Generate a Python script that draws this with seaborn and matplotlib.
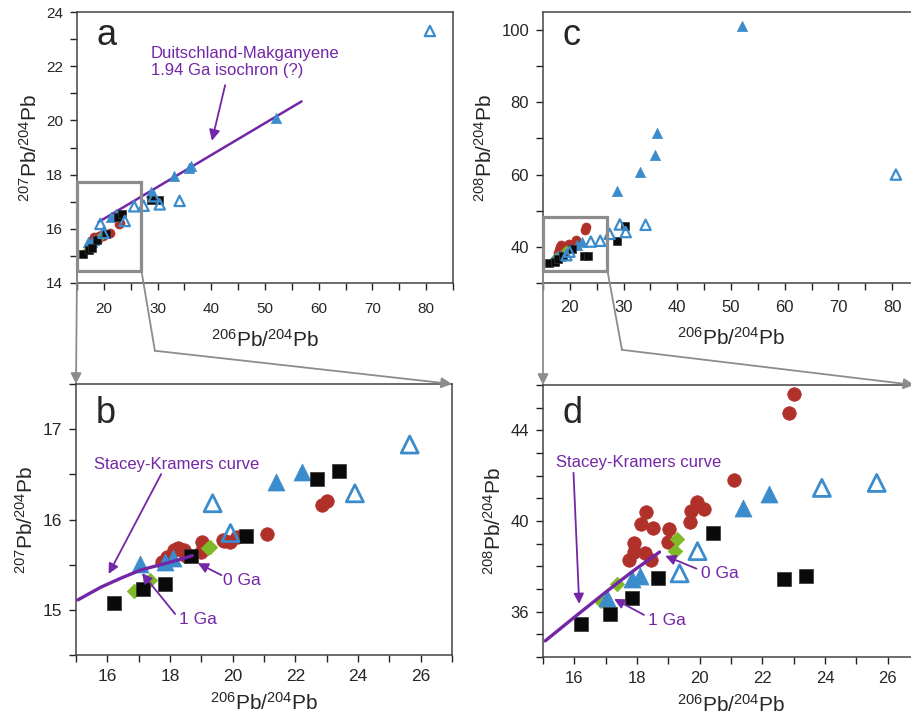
import numpy as np
import pandas as pd
import matplotlib
matplotlib.use("Agg")
import matplotlib.pyplot as plt
from matplotlib.patches import Rectangle, ConnectionPatch
import seaborn as sns

# ---------------------------------------------------------
# data (206Pb/204Pb, 207Pb/204Pb, 208Pb/204Pb)
# ---------------------------------------------------------
sq_206 = [16.21, 17.15, 17.83, 18.66, 20.43, 22.69, 23.39, 28.8, 30.2]
sq_207 = [15.08, 15.23, 15.29, 15.60, 15.82, 16.45, 16.54, 17.05, 17.08]
sq_208 = [35.44, 35.91, 36.60, 37.47, 39.48, 37.45, 37.57, 41.6, 45.7]

red_206 = [17.76, 17.92, 17.92, 18.13, 18.24, 18.29, 18.45, 18.51, 18.99,
           19.02, 19.68, 19.73, 19.91, 20.13, 21.09, 22.84, 23.01]
red_207 = [15.53, 15.57, 15.59, 15.66, 15.68, 15.67, 15.66, 15.60, 15.64,
           15.75, 15.77, 15.76, 15.75, 15.81, 15.84, 16.16, 16.20]
red_208 = [38.26, 38.63, 39.04, 39.85, 38.60, 40.39, 38.26, 39.70, 39.07,
           39.63, 39.95, 40.43, 40.83, 40.51, 41.80, 44.77, 45.62]

dia_206 = [16.85, 17.37, 19.22, 19.28]
dia_207 = [15.21, 15.33, 15.68, 15.70]
dia_208 = [36.47, 37.20, 38.67, 39.19]

tri_206 = [17.05, 17.85, 18.10, 21.38, 22.20, 28.8, 33.0, 35.9, 36.3, 52.0]
tri_207 = [15.51, 15.53, 15.57, 16.42, 16.53, 17.35, 17.95, 18.25, 18.30, 20.1]
tri_208 = [36.62, 37.42, 37.57, 40.58, 41.21, 55.5, 60.8, 65.3, 71.5, 101.2]

otri_206 = [19.36, 19.93, 23.90, 25.65, 27.4, 29.3, 30.4, 34.1, 80.7]
otri_207 = [16.18, 15.85, 16.29, 16.83, 16.85, 17.2, 16.9, 17.03, 23.3]
otri_208 = [37.69, 38.67, 41.46, 41.68, 43.6, 46.2, 44.1, 46.1, 60.0]

# Stacey-Kramers curve as traced on panels b and d
sk_b_206 = [15.06, 15.79, 16.43, 17.06, 17.70, 18.34, 18.71]
sk_b_207 = [15.11, 15.25, 15.35, 15.44, 15.50, 15.56, 15.60]
sk_d_206 = [15.07, 16.05, 17.01, 17.87, 18.72]
sk_d_208 = [34.71, 35.81, 36.87, 37.79, 38.63]

# Duitschland-Makganyene isochron end points (panel a)
iso_206 = [19.0, 56.8]
iso_207 = [16.25, 20.7]

RED = "#b0302a"
GREEN = "#80b928"
BLUE = "#3b8ccc"
BLACK = "#0a0a0a"
PURPLE = "#7326a6"
GRAY = "#8c8c8c"

sns.set_theme(style="ticks")
plt.rcParams["font.family"] = ["Liberation Sans", "DejaVu Sans"]
plt.rcParams["mathtext.default"] = "regular"

def frame(name, x206, x207, x208):
    return pd.DataFrame({"group": name, "x206": x206, "y207": x207, "y208": x208})

df = pd.concat([
    frame("red", red_206, red_207, red_208),
    frame("dia", dia_206, dia_207, dia_208),
    frame("tri", tri_206, tri_207, tri_208),
    frame("sq", sq_206, sq_207, sq_208),
    frame("otri", otri_206, otri_207, otri_208),
], ignore_index=True)

# marker styles
STYLE = {
    "red": dict(marker="o", color=RED, edgecolor=RED, linewidth=0.5),
    "dia": dict(marker="D", color=GREEN, edgecolor=GREEN, linewidth=0.5),
    "tri": dict(marker="^", color=BLUE, edgecolor=BLUE, linewidth=0.5),
    "sq": dict(marker="s", color=BLACK, edgecolor="#333333", linewidth=0.5),
    "otri": dict(marker="^", color=BLUE, facecolor="none", edgecolor=BLUE),
}
SIZE_BIG = {"red": 95, "dia": 55, "tri": 150, "sq": 100, "otri": 150}
SIZE_SMALL = {"red": 42, "dia": 22, "tri": 55, "sq": 40, "otri": 55}

fig = plt.figure(figsize=(9.12, 7.16), dpi=100)
W, H = 912, 716
ax_a = fig.add_axes([77 / W, 1 - 283 / H, 376 / W, 271 / H])
ax_b = fig.add_axes([76 / W, 1 - 655 / H, 376 / W, 271 / H])
ax_c = fig.add_axes([543 / W, 1 - 283 / H, 376 / W, 271 / H])
ax_d = fig.add_axes([543 / W, 1 - 657 / H, 376 / W, 272 / H])

def draw_points(ax, ycol, big):
    sizes = SIZE_BIG if big else SIZE_SMALL
    for g in ["red", "dia", "tri", "sq", "otri"]:
        sub = df[df["group"] == g]
        kw = dict(STYLE[g])
        if g == "otri":
            kw["linewidth"] = 2.0 if big else 1.6
        sns.scatterplot(data=sub, x="x206", y=ycol, s=sizes[g], ax=ax,
                        legend=False, zorder=3, **kw)

def style_axes(ax, xlim, ylim, xticks, xlab, yticks, ylab, ylabel, fs, xpad=5, lpad=6):
    ax.set_xlim(*xlim)
    ax.set_ylim(*ylim)
    ax.set_xticks(xticks)
    ax.set_xticklabels([f"{t:g}" if t in xlab else "" for t in xticks], fontsize=fs)
    ax.set_yticks(yticks)
    ax.set_yticklabels([f"{t:g}" if t in ylab else "" for t in yticks], fontsize=fs)
    ax.tick_params(direction="out", length=5, width=1, color="#222222", pad=5)
    ax.tick_params(axis="x", pad=xpad)
    for sp in ax.spines.values():
        sp.set_visible(True)
        sp.set_color("#444444")
        sp.set_linewidth(1.1)
    ax.set_xlabel(r"$^{206}$Pb/$^{204}$Pb", fontsize=15, labelpad=lpad)
    ax.set_ylabel(ylabel, fontsize=15, labelpad=4)

lab207 = r"$^{207}$Pb/$^{204}$Pb"
lab208 = r"$^{208}$Pb/$^{204}$Pb"

# ---------------- panel a ----------------
draw_points(ax_a, "y207", False)
sns.lineplot(x=iso_206, y=iso_207, ax=ax_a, color=PURPLE, lw=1.8, zorder=2)
style_axes(ax_a, (15, 85), (14, 24), np.arange(15, 86, 5), [20, 30, 40, 50, 60, 70, 80],
           np.arange(14, 25, 1), [14, 16, 18, 20, 22, 24], lab207, 11, xpad=9, lpad=9)
ax_a.text(28.7, 22.75, "Duitschland-Makganyene\n1.94 Ga isochron (?)", color=PURPLE,
          fontsize=12, va="top", ha="left", linespacing=1.15)
ax_a.annotate("", xy=(40.0, 19.15), xytext=(42.7, 21.4),
              arrowprops=dict(arrowstyle="-|>", color=PURPLE, lw=1.3, mutation_scale=16))
ax_a.add_patch(Rectangle((15, 14.45), 12, 3.28, fill=False, ec=GRAY, lw=2.3,
                         zorder=4, clip_on=False))

# ---------------- panel b ----------------
draw_points(ax_b, "y207", True)
sns.lineplot(x=sk_b_206, y=sk_b_207, ax=ax_b, color=PURPLE, lw=2.4, sort=False,
             estimator=None, zorder=4)
style_axes(ax_b, (15, 27), (14.5, 17.5), np.arange(15, 28, 1), [16, 18, 20, 22, 24, 26],
           np.arange(14.5, 17.6, 0.5), [15, 16, 17], lab207, 12.5)
arrow_kw = dict(arrowstyle="-|>", color=PURPLE, lw=1.3, mutation_scale=15)
ax_b.text(15.58, 16.61, "Stacey-Kramers curve", color=PURPLE, fontsize=12, va="center")
ax_b.annotate("", xy=(16.0, 15.37), xytext=(17.76, 16.53), arrowprops=arrow_kw, zorder=5)
ax_b.text(19.68, 15.33, "0 Ga", color=PURPLE, fontsize=12.5, va="center")
ax_b.annotate("", xy=(18.81, 15.53), xytext=(19.72, 15.37), arrowprops=arrow_kw, zorder=5)
ax_b.text(18.28, 14.89, "1 Ga", color=PURPLE, fontsize=12.5, va="center")
ax_b.annotate("", xy=(17.05, 15.43), xytext=(18.22, 14.93), arrowprops=arrow_kw, zorder=5)

# ---------------- panel c ----------------
draw_points(ax_c, "y208", False)
style_axes(ax_c, (15, 85), (30, 105), np.arange(15, 86, 5), [20, 30, 40, 50, 60, 70, 80],
           np.arange(30, 101, 10), [40, 60, 80, 100], lab208, 12, xpad=7, lpad=9)
ax_c.add_patch(Rectangle((15, 33.4), 12, 15.0, fill=False, ec=GRAY, lw=2.3,
                         zorder=4, clip_on=False))

# ---------------- panel d ----------------
draw_points(ax_d, "y208", True)
sns.lineplot(x=sk_d_206, y=sk_d_208, ax=ax_d, color=PURPLE, lw=2.4, sort=False,
             estimator=None, zorder=4)
style_axes(ax_d, (15, 27), (34, 46), np.arange(15, 28, 1), [16, 18, 20, 22, 24, 26],
           np.arange(34, 47, 1), [36, 40, 44], lab208, 12)
ax_d.text(15.42, 42.58, "Stacey-Kramers curve", color=PURPLE, fontsize=12, va="center")
ax_d.annotate("", xy=(16.16, 36.22), xytext=(15.97, 42.25), arrowprops=arrow_kw, zorder=5)
ax_d.text(20.03, 37.67, "0 Ga", color=PURPLE, fontsize=12.5, va="center")
ax_d.annotate("", xy=(18.82, 38.51), xytext=(19.98, 37.85), arrowprops=arrow_kw, zorder=5)
ax_d.text(18.35, 35.62, "1 Ga", color=PURPLE, fontsize=12.5, va="center")
ax_d.annotate("", xy=(17.19, 36.62), xytext=(18.3, 35.8), arrowprops=arrow_kw, zorder=5)

# panel letters
for ax, letter, yb in [(ax_a, "a", 0.878), (ax_b, "b", 0.856), (ax_c, "c", 0.878), (ax_d, "d", 0.86)]:
    ax.text(0.053, yb, letter, transform=ax.transAxes, fontsize=26, va="baseline")

# ---------------- zoom connectors ----------------
def connect(xyA, axA, xyB, axB, head):
    cp = ConnectionPatch(xyA, xyB, "data", "data", axesA=axA, axesB=axB,
                         arrowstyle="-|>" if head else "-", mutation_scale=16,
                         color=GRAY, lw=1.3, zorder=10)
    cp.set_annotation_clip(False)
    fig.add_artist(cp)

connect((15, 14.45), ax_a, (15, 17.5), ax_b, True)
connect((27, 14.45), ax_a, (29.5, 11.5), ax_a, False)
connect((29.5, 11.5), ax_a, (27, 17.5), ax_b, True)
connect((15, 33.4), ax_c, (15, 46), ax_d, True)
connect((27, 33.4), ax_c, (29.7, 11.5), ax_c, False)
connect((29.7, 11.5), ax_c, (26.85, 46), ax_d, True)

fig.savefig("out.png", dpi=100)
